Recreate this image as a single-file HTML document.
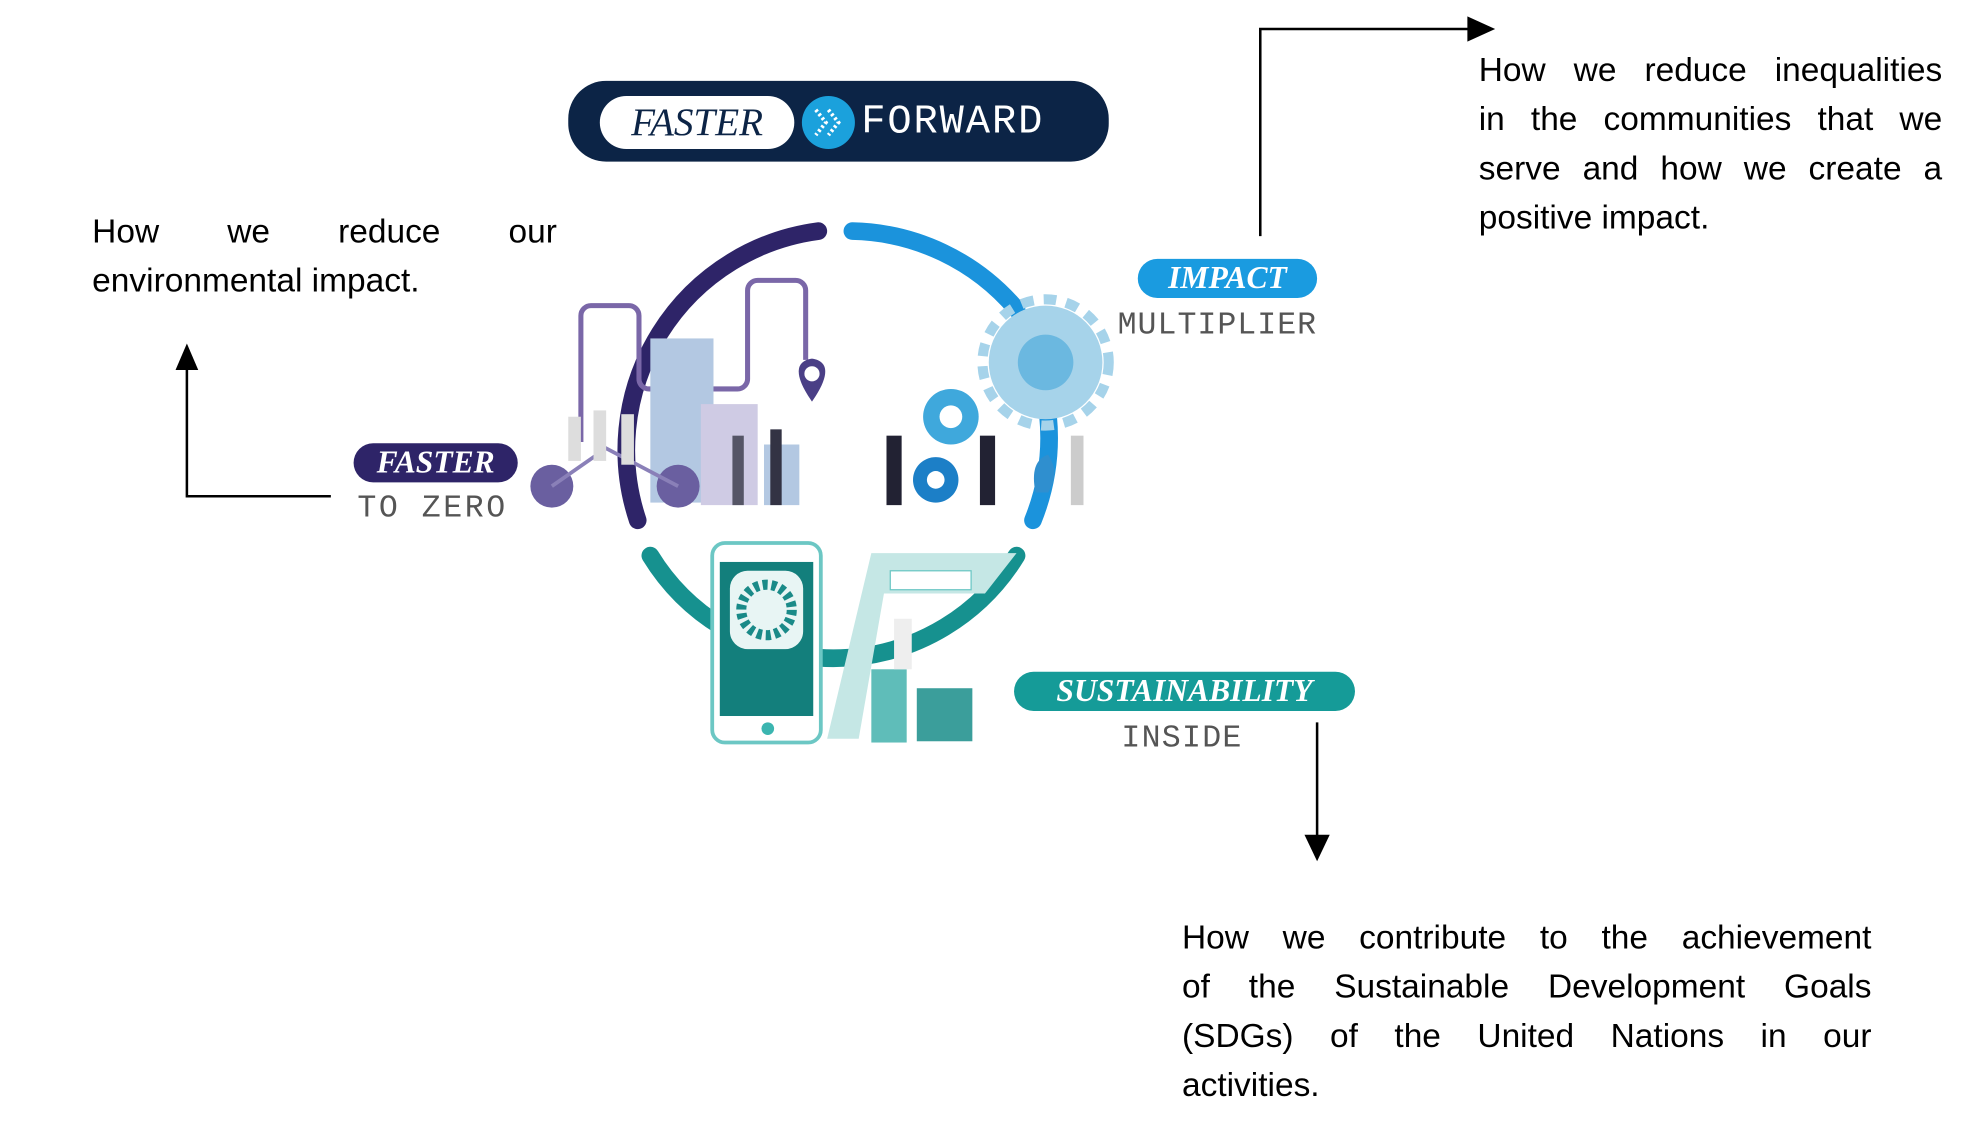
<!DOCTYPE html>
<html><head><meta charset="utf-8"><style>
html,body{margin:0;padding:0;background:#fff;width:1980px;height:1136px;overflow:hidden}
#c{position:absolute;left:0;top:0;width:1568px;height:900px;transform:scale(1.2628);transform-origin:0 0;font-family:"Liberation Sans",sans-serif}
.t{position:absolute;font-size:26.5px;line-height:39px;color:#000}
.t div{white-space:nowrap;text-align:justify;text-align-last:justify;height:39px}
.t div.l{text-align-last:left}
.badge{position:absolute;color:#fff;font-family:"Liberation Serif",serif;font-style:italic;font-weight:bold;text-align:center;border-radius:16px;font-size:27px;line-height:31px}
.dot{position:absolute;font-family:"Liberation Mono",monospace;color:#555;letter-spacing:1px;font-size:25px}
</style></head><body><div id="c">
<svg width="1568" height="900" style="position:absolute;left:0;top:0">
<polyline points="262,393 148,393 148,292" fill="none" stroke="#000" stroke-width="2"/>
<path d="M139,293 L148,272 L157,293z"/>
<polyline points="998,187 998,23 1163,23" fill="none" stroke="#000" stroke-width="2"/>
<path d="M1162,13 L1184,23 L1162,33z"/>
<line x1="1043" y1="572" x2="1043" y2="662" stroke="#000" stroke-width="2"/>
<path d="M1033,661 L1043,682 L1053,661z"/>
<rect x="450" y="64" width="428" height="64" rx="30" fill="#0c2446"/>
<rect x="475" y="76" width="154" height="42" rx="21" fill="#fff"/>
<circle cx="656" cy="97" r="21" fill="#1ba1dc"/>
<path d="M646,87 l8,10 l-8,10 M656,87 l8,10 l-8,10" fill="none" stroke="#fff" stroke-width="3" stroke-dasharray="2 2"/>
<path d="M648,183 A175,175 0 0 0 505,412" fill="none" stroke="#2e2468" stroke-width="14" stroke-linecap="round"/>
<path d="M675,183 A175,175 0 0 1 805,245" fill="none" stroke="#1b93dc" stroke-width="14" stroke-linecap="round"/>
<path d="M830,330 A175,175 0 0 1 818,412" fill="none" stroke="#1b93dc" stroke-width="14" stroke-linecap="round"/>
<path d="M515,440 A170,170 0 0 0 805,440" fill="none" stroke="#16918f" stroke-width="14" stroke-linecap="round"/>
<path d="M460,350 V250 a8,8 0 0 1 8,-8 h30 a8,8 0 0 1 8,8 V300 a8,8 0 0 0 8,8 h70 a8,8 0 0 0 8,-8 V230 a8,8 0 0 1 8,-8 h30 a8,8 0 0 1 8,8 V285" fill="none" stroke="#7a67a8" stroke-width="4"/>
<rect x="515" y="268" width="50" height="130" fill="#b3c8e2"/>
<rect x="555" y="320" width="45" height="80" fill="#cfcbe4"/>
<rect x="605" y="352" width="28" height="48" fill="#b3c8e2"/>
<path d="M643,318 c-14,-20 -14,-32 0,-34 c14,2 14,14 0,34z" fill="#4a3f86"/><circle cx="643" cy="296" r="6" fill="#fff"/>
<circle cx="437" cy="385" r="17" fill="#6a5fa0"/><circle cx="537" cy="385" r="17" fill="#6a5fa0"/>
<path d="M437,385 L480,355 L537,385" fill="none" stroke="#8a80b8" stroke-width="3"/>
<rect x="450" y="330" width="10" height="35" fill="#ddd"/><rect x="470" y="325" width="10" height="40" fill="#ddd"/><rect x="492" y="328" width="10" height="40" fill="#ddd"/>
<rect x="580" y="345" width="9" height="55" fill="#556"/><rect x="610" y="340" width="9" height="60" fill="#334"/>
<circle cx="828" cy="287" r="45" fill="#a6d3ea"/><circle cx="828" cy="287" r="50" fill="none" stroke="#a6d3ea" stroke-width="8" stroke-dasharray="10 8"/>
<circle cx="828" cy="287" r="22" fill="#6bb8e0"/>
<circle cx="753" cy="330" r="22" fill="#3fa8dc"/><circle cx="753" cy="330" r="9" fill="#fff"/>
<circle cx="741" cy="380" r="18" fill="#1c7fc7"/><circle cx="741" cy="380" r="7" fill="#fff"/>
<rect x="702" y="345" width="12" height="55" fill="#223"/><rect x="776" y="345" width="12" height="55" fill="#223"/><rect x="848" y="345" width="10" height="55" fill="#ccc"/>
<path d="M820,390 q-5,-25 10,-30 q10,15 0,30z" fill="#2f8fcf"/>
<rect x="564" y="430" width="86" height="158" rx="10" fill="#fff" stroke="#6cc7c4" stroke-width="3"/>
<rect x="570" y="445" width="74" height="122" fill="#137f7c"/>
<rect x="578" y="452" width="58" height="62" rx="14" fill="#e8f5f4"/>
<circle cx="607" cy="483" r="20" fill="none" stroke="#1a8a88" stroke-width="8" stroke-dasharray="4 3"/>
<circle cx="608" cy="577" r="5" fill="#3bb5b0"/>
<path d="M655,585 L690,438 L805,438 L780,470 L700,470 L680,585z" fill="#c5e7e5"/>
<rect x="705" y="452" width="64" height="15" fill="#fff" stroke="#6cc7c4"/>
<rect x="690" y="530" width="28" height="58" fill="#5fbdb9"/>
<rect x="726" y="545" width="44" height="42" fill="#3b9e9b"/>
<rect x="708" y="490" width="14" height="40" fill="#eee"/>
</svg>
<div style="position:absolute;left:488px;top:77px;width:128px;text-align:center;font-family:'Liberation Serif',serif;font-style:italic;font-size:31px;color:#0c2446;line-height:40px">FASTER</div>
<div style="position:absolute;left:682px;top:77px;font-family:'Liberation Mono',monospace;font-size:32px;color:#fff;line-height:40px;letter-spacing:1.5px">FORWARD</div>
<div class="badge" style="left:280px;top:351px;width:130px;background:#2e2468;font-size:25px">FASTER</div>
<div class="dot" style="left:283px;top:388px;letter-spacing:2px">TO ZERO</div>
<div class="badge" style="left:901px;top:205px;width:142px;background:#1a9be0;font-size:25px">IMPACT</div>
<div class="dot" style="left:885px;top:243px;letter-spacing:0.8px">MULTIPLIER</div>
<div class="badge" style="left:803px;top:532px;width:270px;background:#159b98;font-size:25px">SUSTAINABILITY</div>
<div class="dot" style="left:888px;top:570px">INSIDE</div>
<div class="t" style="left:73px;top:164px;width:368px"><div>How we reduce our</div><div class="l">environmental impact.</div></div>
<div class="t" style="left:1171px;top:36px;width:367px"><div>How we reduce inequalities</div><div>in the communities that we</div><div>serve and how we create a</div><div class="l">positive impact.</div></div>
<div class="t" style="left:936px;top:723px;width:546px"><div>How we contribute to the achievement</div><div>of the Sustainable Development Goals</div><div>(SDGs) of the United Nations in our</div><div class="l">activities.</div></div>
</div></body></html>
